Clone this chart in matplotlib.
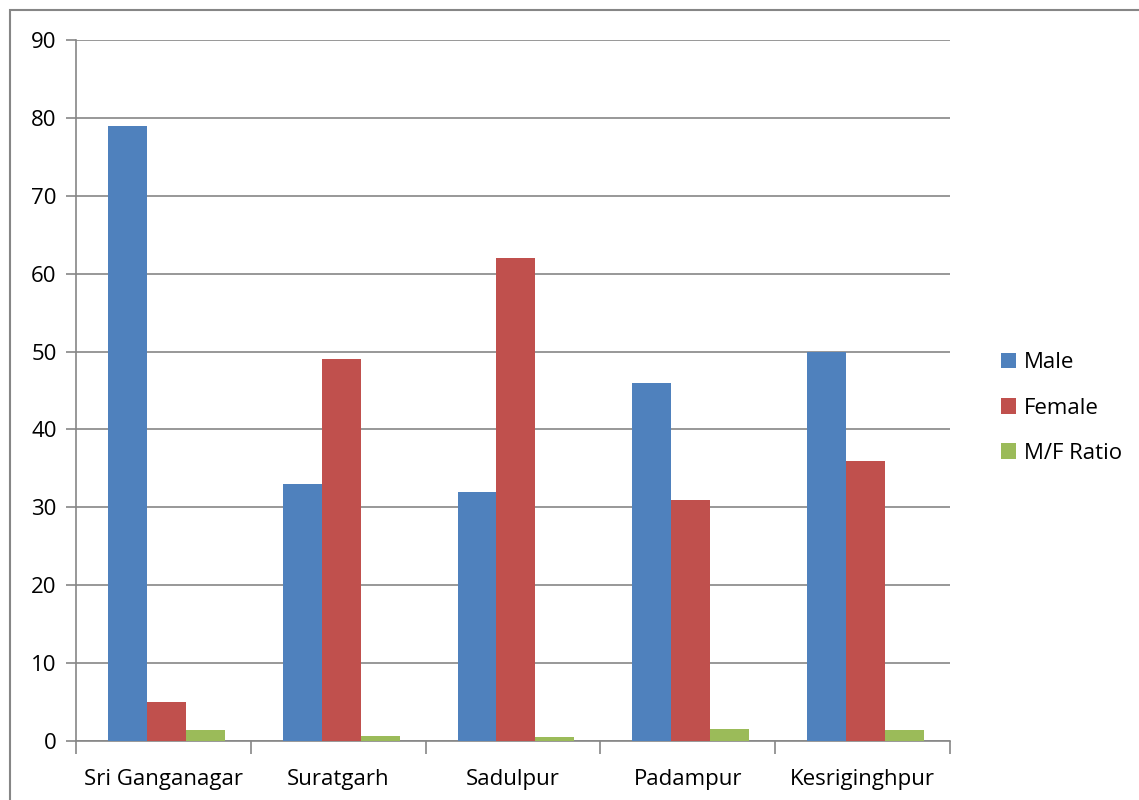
import numpy as np
import matplotlib
matplotlib.use('Agg')
import matplotlib.pyplot as plt
from matplotlib.patches import Rectangle

towns = ['Sri Ganganagar', 'Suratgarh', 'Sadulpur', 'Padampur', 'Kesriginghpur']
male = [79, 33, 32, 46, 50]
female = [5, 49, 62, 31, 36]
mf_ratio = [1.45, 0.67, 0.52, 1.48, 1.39]

plt.rcParams['font.family'] = ['Open Sans', 'DejaVu Sans']

fig = plt.figure(figsize=(11.39, 8.0), dpi=100)
ax = fig.add_axes([76/1139, 1 - 741/800, (950-76)/1139, (741-40)/800])

x = np.arange(len(towns))
w = 0.223
shift = 0.017
ax.bar(x - w + shift, male, w, color='#4f81bd', label='Male', zorder=3)
ax.bar(x + shift, female, w, color='#c0504d', label='Female', zorder=3)
ax.bar(x + w + shift, mf_ratio, w, color='#9bbb59', label='M/F Ratio', zorder=3)

ax.set_xlim(-0.5, len(towns) - 0.5)
ax.set_ylim(0, 90)
ax.set_yticks(range(0, 91, 10))
ax.yaxis.grid(True, color='#868686', linewidth=1.2, zorder=0)
ax.set_xticks(x)
ax.set_xticklabels(towns, fontsize=16)
ax.tick_params(axis='x', length=0, pad=20)
ax.set_xticks(np.arange(-0.5, len(towns)), minor=True)
ax.tick_params(axis='x', which='minor', length=9, color='#868686', width=1.2)
ax.tick_params(axis='y', labelsize=16, length=7, color='#868686', width=1.2, pad=7)

for side in ['top', 'right']:
    ax.spines[side].set_visible(False)
for side in ['left', 'bottom']:
    ax.spines[side].set_color('#868686')
    ax.spines[side].set_linewidth(1.2)

leg = ax.legend(loc='center left', bbox_to_anchor=(1.035, 0.475), frameon=False,
                fontsize=16, handlelength=0.7, handleheight=0.7,
                handletextpad=0.35, labelspacing=1.1)

fig.patches.append(Rectangle((10/1139, -0.01), 1.1, 1 - 10/800 + 0.01,
                             transform=fig.transFigure, fill=False,
                             edgecolor='#868686', linewidth=1.5))

fig.savefig('out.png', dpi=100)
